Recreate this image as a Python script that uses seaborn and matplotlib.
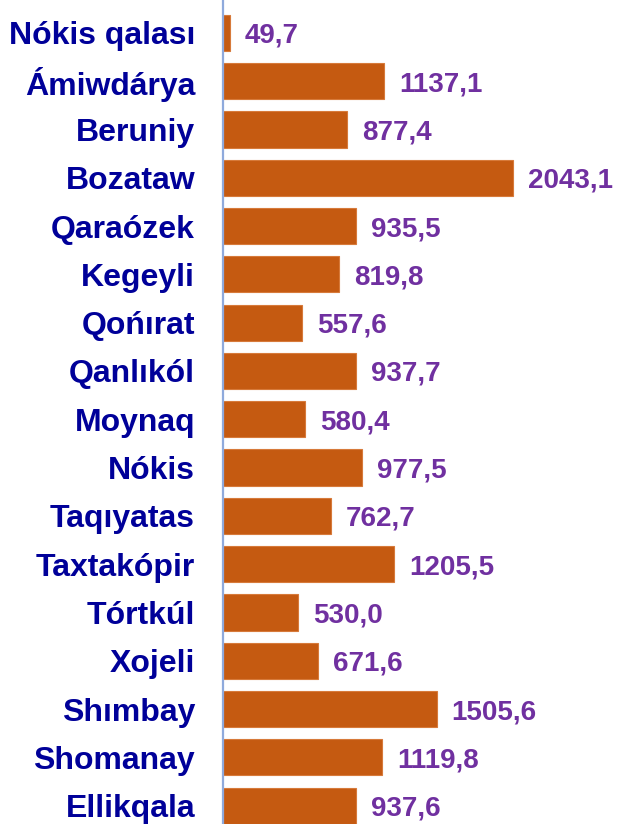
import seaborn as sns
import matplotlib.pyplot as plt
import pandas as pd

districts = ['Nókis qalası', 'Ámiwdárya', 'Beruniy', 'Bozataw', 'Qaraózek',
             'Kegeyli', 'Qońırat', 'Qanlıkól', 'Moynaq', 'Nókis', 'Taqıyatas',
             'Taxtakópir', 'Tórtkúl', 'Xojeli', 'Shımbay', 'Shomanay',
             'Ellikqala']
values = [49.7, 1137.1, 877.4, 2043.1, 935.5, 819.8, 557.6, 937.7, 580.4,
          977.5, 762.7, 1205.5, 530.0, 671.6, 1505.6, 1119.8, 937.6]

sns.set_style('white')
plt.rcParams['font.family'] = ['Liberation Sans', 'DejaVu Sans']

df = pd.DataFrame({'district': districts, 'value': values})

fig = plt.figure(figsize=(6.19, 8.24), dpi=100)
ax = fig.add_axes([0.36, 0.0, 0.64, 1.0])
sns.barplot(data=df, x='value', y='district', orient='h', color='#C55A11',
            saturation=1, width=0.75, edgecolor='#D77A3A', linewidth=0.8, ax=ax)

ax.set_xlim(0, 2791)
ax.set_ylim(16.38, -0.68)
ax.set_xlabel('')
ax.set_ylabel('')
ax.set_xticks([])
for s in ['top', 'right', 'bottom']:
    ax.spines[s].set_visible(False)
ax.spines['left'].set_color('#8FAADC')
ax.spines['left'].set_linewidth(1.6)

ax.tick_params(axis='y', length=0, pad=20, labelsize=23, labelcolor='#000099')
for lbl in ax.get_yticklabels():
    lbl.set_fontweight('bold')

for i, v in enumerate(values):
    ax.annotate(f'{v:.1f}'.replace('.', ','), xy=(v, i), xytext=(15, -3),
                textcoords='offset pixels', va='center', ha='left',
                fontsize=20, fontweight='bold', color='#7030A0')

fig.savefig('out.png', dpi=100)
